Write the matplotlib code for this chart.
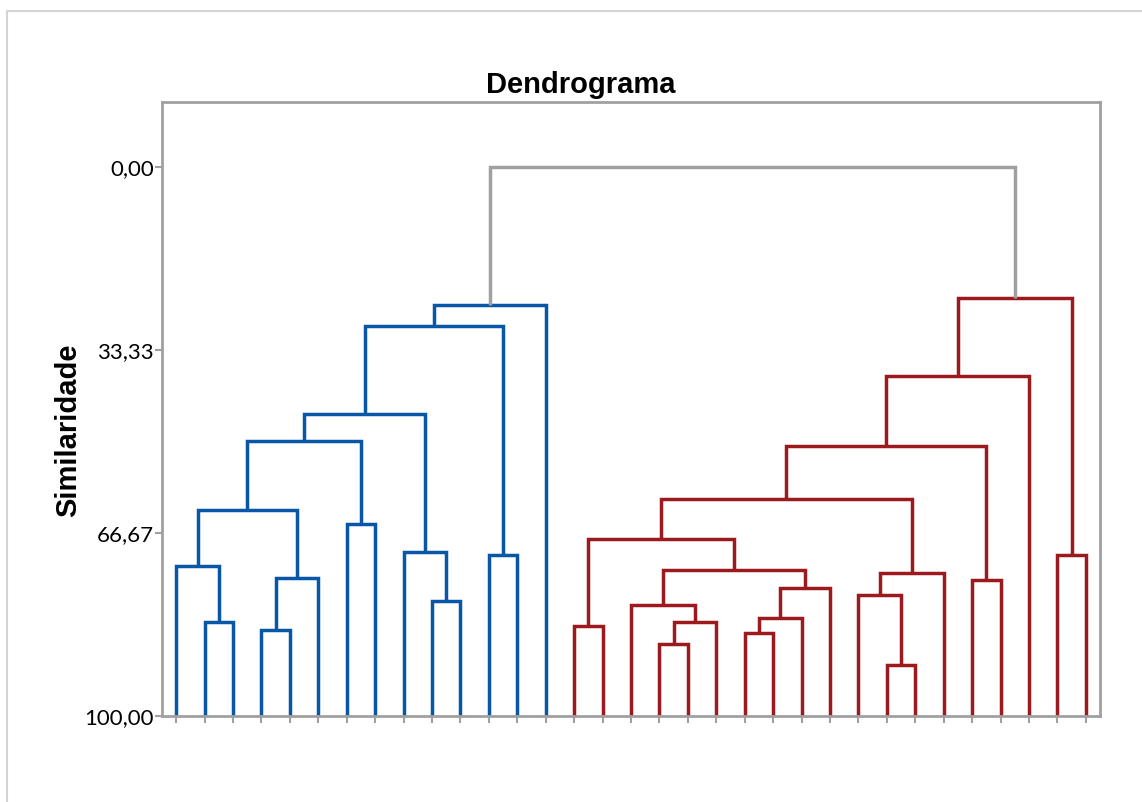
import numpy as np
import matplotlib.pyplot as plt
from matplotlib.patches import Rectangle

# 33 leaves, in display order
n_leaves = 33
# merges: (left node, right node, similarity); new node ids start at n_leaves
merges = [
    (1, 2, 82.8), (0, 33, 72.6), (3, 4, 84.3), (35, 5, 74.9), (34, 36, 62.4),
    (6, 7, 65.0), (9, 10, 79.0), (8, 39, 70.2), (11, 12, 70.7), (37, 38, 49.9),
    (42, 40, 44.9), (43, 41, 28.9), (44, 13, 25.1),
    (14, 15, 83.6), (17, 18, 86.8), (47, 19, 82.9), (16, 48, 79.8), (20, 21, 84.8),
    (50, 22, 82.1), (51, 23, 76.6), (49, 52, 73.4), (46, 53, 67.7), (25, 26, 90.8),
    (24, 55, 78.0), (56, 27, 74.0), (54, 57, 60.5), (28, 29, 75.2), (58, 59, 50.9),
    (60, 30, 38.1), (31, 32, 70.7), (61, 62, 23.9),
    (45, 63, 0.0),
]
yticks = [0, 33.33, 66.67, 100]
yticklabels = ['0,00', '33,33', '66,67', '100,00']

BLUE = '#0757a6'
RED = '#9c1a1e'
GRAY = '#a0a0a0'

xpos = {i: float(i) for i in range(n_leaves)}
hgt = {i: 100.0 for i in range(n_leaves)}
for k, (a, b, s) in enumerate(merges):
    node = n_leaves + k
    xpos[node] = (xpos[a] + xpos[b]) / 2
    hgt[node] = s

# color each merge by which top-level cluster it belongs to
top = n_leaves + len(merges) - 1
color = {top: GRAY}
def paint(node, c):
    if node < n_leaves:
        return
    color[node] = c
    a, b, _ = merges[node - n_leaves]
    paint(a, c)
    paint(b, c)
paint(merges[-1][0], BLUE)
paint(merges[-1][1], RED)

W, H = 1142, 802
fig = plt.figure(figsize=(W / 100, H / 100), dpi=100)
fig.add_artist(Rectangle((7 / W, -0.1), 1.2, 1.1 - 11 / H,
                         transform=fig.transFigure, fill=False,
                         edgecolor='#d4d4d4', linewidth=1.5))
ax = fig.add_axes([162 / W, 1 - 716 / H, 938 / W, 614 / H])

for k, (a, b, s) in enumerate(merges):
    node = n_leaves + k
    c = color[node]
    ax.plot([xpos[a], xpos[a], xpos[b], xpos[b]], [hgt[a], s, s, hgt[b]],
            color=c, lw=2.5, solid_joinstyle='miter', solid_capstyle='butt')

ax.set_xlim(-0.5, 32.5)
ax.set_ylim(100, -11.84)
ax.set_xticks(range(n_leaves))
ax.set_xticklabels([])
ax.set_yticks(yticks)
ax.set_yticklabels(yticklabels, fontsize=16, family='Lato')
ax.tick_params(axis='both', color=GRAY, width=1.5, length=5, pad=1)
for sp in ax.spines.values():
    sp.set_color(GRAY)
    sp.set_linewidth(2)

fig.text(581 / W, 1 - 85 / H, 'Dendrograma', fontsize=21, fontweight='bold',
         family='Liberation Sans', ha='center', va='center')
fig.text(68 / W, 1 - 430 / H, 'Similaridade', fontsize=21, fontweight='bold',
         family='Liberation Sans', ha='center', va='center', rotation=90)

fig.savefig('out.png', dpi=100)
